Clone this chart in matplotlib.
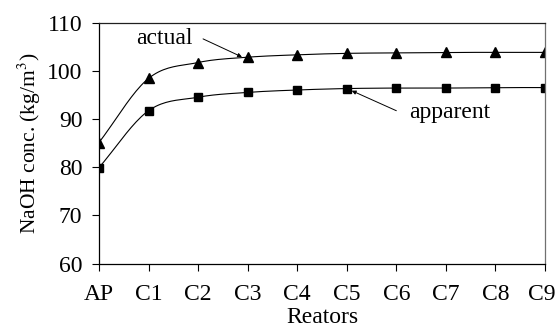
import numpy as np
import matplotlib
matplotlib.use("Agg")
import matplotlib.pyplot as plt
import matplotlib.transforms as mtransforms

plt.rcParams["font.family"] = ["Liberation Serif", "DejaVu Serif"]
plt.rcParams["mathtext.fontset"] = "stix"

reactors = ["AP", "C1", "C2", "C3", "C4", "C5", "C6", "C7", "C8", "C9"]
actual = [85.1, 98.4, 101.7, 102.8, 103.3, 103.6, 103.7, 103.8, 103.8, 103.8]
apparent = [79.9, 91.7, 94.5, 95.5, 96.0, 96.3, 96.4, 96.4, 96.5, 96.5]


def smooth(x, y, n=20):
    # Catmull-Rom curve through the points, like a spreadsheet "smoothed line"
    x = np.asarray(x, float)
    y = np.asarray(y, float)
    px = np.concatenate([[2 * x[0] - x[1]], x, [2 * x[-1] - x[-2]]])
    py = np.concatenate([[2 * y[0] - y[1]], y, [2 * y[-1] - y[-2]]])
    xs, ys = [], []
    t = np.linspace(0, 1, n, endpoint=False)
    for i in range(1, len(px) - 2):
        for arr, out in ((px, xs), (py, ys)):
            p0, p1, p2, p3 = arr[i - 1], arr[i], arr[i + 1], arr[i + 2]
            out.extend(0.5 * (2 * p1 + (-p0 + p2) * t
                              + (2 * p0 - 5 * p1 + 4 * p2 - p3) * t**2
                              + (-p0 + 3 * p1 - 3 * p2 + p3) * t**3))
    xs.append(x[-1])
    ys.append(y[-1])
    return np.array(xs), np.array(ys)


x = np.arange(len(reactors))

fig = plt.figure(figsize=(5.57, 3.29), dpi=100)
ax = fig.add_axes([0.1777, 0.199, 0.8008, 0.7326])

for vals, mk, ms in ((actual, "^", 6.5), (apparent, "s", 6)):
    sx, sy = smooth(x, vals)
    ax.plot(sx, sy, color="black", lw=0.8)
    ax.plot(x, vals, linestyle="none", marker=mk, ms=ms, color="black")

ax.set_xlim(0, 9)
ax.set_ylim(60, 110)
ax.set_yticks(np.arange(60, 111, 10))
ax.set_xticks(x)
ax.set_xticklabels(reactors)
ax.tick_params(direction="out", length=5, width=0.8, labelsize=17)
ax.tick_params(axis="x", pad=9.5)
ax.tick_params(axis="y", pad=7)
ax.spines["right"].set_color("#707070")
ax.spines["top"].set_color("#202020")
for s in ax.spines.values():
    s.set_linewidth(0.9)

# keep the last tick label inside the figure
last = ax.get_xticklabels()[-1]
last.set_transform(last.get_transform()
                   + mtransforms.ScaledTranslation(-3 / 100, 0, fig.dpi_scale_trans))

ax.set_xlabel("Reators", fontsize=17, labelpad=1.5)
ax.set_ylabel(r"NaOH conc. (kg/m$^3$)", fontsize=15.5, labelpad=3)

ax.text(1.31, 106.6, "actual", fontsize=17, ha="center", va="center")
ax.text(7.08, 91.3, "apparent", fontsize=17, ha="center", va="center")
arrow = dict(arrowstyle="-|>", lw=0.7, color="black", mutation_scale=6,
             shrinkA=0, shrinkB=0)
ax.annotate("", xy=(2.885, 102.85), xytext=(2.10, 106.6), arrowprops=arrow)
ax.annotate("", xy=(5.10, 95.85), xytext=(6.0, 91.7), arrowprops=arrow)

fig.savefig("out.png", dpi=100)
